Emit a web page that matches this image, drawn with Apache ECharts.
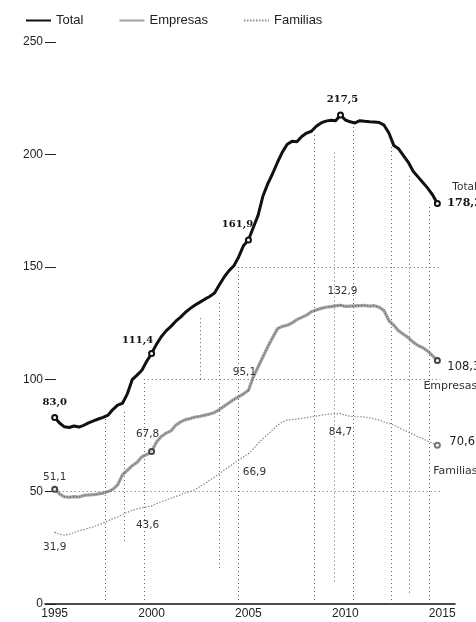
<!DOCTYPE html>
<html><head><meta charset="utf-8">
<script src="https://cdn.jsdelivr.net/npm/echarts@6/dist/echarts.min.js"></script>
<style>html,body{margin:0;padding:0;background:#fff}#c{width:476px;height:622px}</style>
</head><body><div id="c"></div>
<script>
// Quarterly series, first point = 1995 Q1
const firstYear = 1995;
const seriesNames = ['Total', 'Empresas', 'Familias'];

const total = [
  83.0, 80.5, 78.8, 78.5, 79.2, 78.7, 79.5, 80.6, 81.5, 82.3,
  83.0, 84.0, 86.5, 88.5, 89.3, 93.5, 99.8, 101.8, 104.0, 108.0,
  111.4, 115.5, 118.9, 121.5, 123.5, 125.8, 127.6, 129.8, 131.5, 133.0,
  134.3, 135.6, 136.8, 138.3, 142.0, 145.5, 148.3, 150.5, 154.5, 159.5,
  161.9, 167.5, 173.0, 181.5, 187.0, 191.5, 196.5, 201.0, 204.5, 205.8,
  205.6, 208.0, 209.5, 210.3, 212.5, 214.0, 214.8, 215.2, 215.0, 217.5,
  215.3, 214.5, 214.0, 215.0, 214.7, 214.5, 214.4, 214.2, 213.0, 209.5,
  204.0, 202.5, 199.5, 196.5, 192.5, 190.0, 187.5, 185.0, 182.0, 178.2
];
const empresas = [
  51.1, 49.0, 47.7, 47.5, 47.8, 47.6, 48.3, 48.5, 48.6, 49.0,
  49.3, 50.0, 51.0, 53.0, 57.5, 59.5, 61.5, 63.0, 65.5, 66.5,
  67.8, 72.0, 74.5, 76.0, 77.0, 79.5, 81.0, 82.0, 82.5, 83.2,
  83.5, 84.0, 84.5, 85.2, 86.5, 88.0, 89.5, 91.0, 92.2, 93.5,
  95.1, 101.0, 105.5, 110.0, 114.5, 118.5, 122.5, 123.5, 124.0, 125.0,
  126.5, 127.5, 128.5, 130.0, 130.8, 131.5, 132.0, 132.3, 132.6, 132.9,
  132.4, 132.5, 132.6, 132.7, 132.8, 132.5, 132.7, 132.0, 130.5, 126.0,
  124.0, 121.5, 120.0, 118.5, 116.5, 115.0, 114.0, 112.5, 110.5, 108.3
];
const familias = [
  31.9, 31.0, 30.6, 31.0, 31.8, 32.6, 33.0, 33.8, 34.3, 35.2,
  36.0, 37.0, 38.0, 38.7, 39.8, 40.8, 41.6, 42.3, 42.8, 43.2,
  43.6, 44.6, 45.5, 46.2, 47.0, 47.8, 48.6, 49.4, 50.0, 51.0,
  52.2, 53.5, 55.0, 56.5, 58.0, 59.6, 61.0, 62.6, 64.0, 65.5,
  66.9, 69.0, 71.5, 73.5, 75.5, 77.5, 79.5, 81.0, 81.8, 82.0,
  82.3, 82.6, 82.9, 83.3, 83.6, 84.0, 84.3, 84.5, 84.6, 84.7,
  84.0, 83.5, 83.3, 83.3, 83.2, 82.8, 82.3, 81.8, 81.0, 80.4,
  79.6, 78.5, 77.4, 76.5, 75.5, 74.4, 73.5, 72.5, 71.5, 70.6
];
const xTickLabels = [1995, 2000, 2005, 2010, 2015];
// reference guides: [x (year), from value, to value]
const verticalGuides = [
  [1997.63, 0, 83.5], [1998.6, 28, 86], [1999.6, 0, 100], [2002.5, 100, 128],
  [2003.5, 16, 135], [2004.45, 0, 150], [2008.4, 0, 210], [2009.45, 10, 202],
  [2010.4, 0, 214], [2012.35, 0, 204], [2013.3, 5, 191], [2014.35, 0, 178]
];
// [value, from year, to year]
const horizontalGuides = [[50, 1995, 2014.9], [100, 1999.6, 2014.9], [150, 2004.45, 2014.9]];

const fmt = v => v.toFixed(1).replace('.', ',');
const t = i => firstYear + i / 4;

const serifBold = {fontFamily: 'DejaVu Serif', fontWeight: 'bold', fontSize: 10, color: '#111'};
const sansLbl = {fontFamily: 'DejaVu Sans', fontSize: 10.5, color: '#333'};

const totalPos = {0: ['top', [0, -3]], 20: ['top', [-14, -1]], 40: ['top', [-11, -3]], 59: ['top', [2, -3]]};
const empPos = {0: ['top', [0, 1]], 20: ['top', [-4, -4]], 40: ['top', [-4, -8]], 59: ['top', [2, -4]]};
const famPos = {0: ['bottom', [0, 5]], 20: ['bottom', [-4, 9]], 40: ['bottom', [6, 9]], 59: ['bottom', [0, 9]]};

function build(values, posMap, circles, labelStyle) {
  return values.map((v, i) => {
    const item = {value: [t(i), v]};
    if (circles.includes(i)) {
      item.symbol = 'emptyCircle'; item.symbolSize = 5;
    } else if (posMap[i]) {
      item.symbol = 'circle'; item.symbolSize = 1;
    }
    if (posMap[i]) {
      item.label = Object.assign({show: true, position: posMap[i][0], offset: posMap[i][1], distance: 4,
        formatter: p => fmt(p.value[1])}, labelStyle);
    }
    return item;
  });
}

const last = total.length - 1;
const totalData = build(total, totalPos, [0, 20, 40, 59, last], serifBold);
const empData = build(empresas, empPos, [0, 20, last], sansLbl);
const famData = build(familias, famPos, [last], sansLbl);
empData[last].label = Object.assign({show: true, position: 'bottom', offset: [13, 12], formatter: () => seriesNames[1]}, sansLbl, {fontSize: 11});
famData[last].label = Object.assign({show: true, position: 'bottom', offset: [18, 12], formatter: () => seriesNames[2]}, sansLbl, {fontSize: 11});

const guideLines = verticalGuides.map(g => [{coord: [g[0], g[1]]}, {coord: [g[0], g[2]]}])
  .concat(horizontalGuides.map(g => [{coord: [g[1], g[0]]}, {coord: [g[2], g[0]]}]));

const chart = echarts.init(document.getElementById('c'), null, {renderer: 'canvas'});
chart.setOption({
  animation: false,
  backgroundColor: '#fff',
  legend: {
    data: seriesNames, left: 20, top: 9, itemWidth: 25, itemHeight: 10, itemGap: 35,
    itemStyle: {opacity: 0, borderWidth: 0},
    textStyle: {fontFamily: 'Liberation Sans', fontSize: 13, color: '#222'}
  },
  grid: {left: 45, right: 21, top: 42, bottom: 18, containLabel: false},
  xAxis: {
    type: 'value', min: 1994.5, max: 2015.66,
    axisLine: {show: true, lineStyle: {color: '#111', width: 1.5}},
    axisTick: {show: false},
    splitLine: {show: false},
    axisLabel: {customValues: xTickLabels, margin: 4, fontFamily: 'Liberation Sans', fontSize: 12, color: '#222',
      formatter: v => String(v)}
  },
  yAxis: {
    type: 'value', min: 0, max: 250, interval: 50,
    axisLine: {show: false},
    axisTick: {show: true, inside: true, length: 11, lineStyle: {color: '#222', width: 1}},
    splitLine: {show: false},
    axisLabel: {margin: 2, fontFamily: 'Liberation Sans', fontSize: 12, color: '#222'}
  },
  series: [
    {
      name: 'guides', type: 'line', data: [], silent: true,
      markLine: {silent: true, symbol: 'none', label: {show: false}, animation: false,
        lineStyle: {color: '#666', width: 1, type: [1, 3]}, data: guideLines}
    },
    {
      name: seriesNames[2], type: 'line', symbol: 'none', data: famData, z: 3,
      lineStyle: {color: '#8a8a8a', width: 1.2, type: [1.5, 1.5]}, itemStyle: {color: '#777'},
      endLabel: {show: true, distance: 12, offset: [0, -3], formatter: p => fmt(p.value[1]),
        fontFamily: 'DejaVu Sans', fontSize: 11.5, color: '#222'}
    },
    {
      name: seriesNames[1], type: 'line', symbol: 'none', data: empData, z: 4,
      lineStyle: {color: '#a2a2a2', width: 3.2}, itemStyle: {color: '#444'},
      endLabel: {show: true, distance: 10, offset: [0, 6], formatter: p => fmt(p.value[1]),
        fontFamily: 'DejaVu Sans', fontSize: 11.5, color: '#222'}
    },
    {
      name: 'EmpresasTex', type: 'line', symbol: 'none', silent: true, z: 5,
      data: empresas.map((v, i) => [t(i), v]),
      lineStyle: {color: '#333', width: 0.7, type: [1, 2]}
    },
    {
      name: seriesNames[0], type: 'line', symbol: 'none', data: totalData, z: 6,
      lineStyle: {color: '#111', width: 3}, itemStyle: {color: '#111'},
      endLabel: {show: true, distance: 10, offset: [0, -8],
        formatter: p => '{n|' + seriesNames[0] + '}\n{v|' + fmt(p.value[1]) + '}',
        rich: {
          n: {fontFamily: 'DejaVu Sans', fontSize: 10.5, color: '#333', padding: [0, 0, 0, 5], lineHeight: 16},
          v: {fontFamily: 'DejaVu Serif', fontWeight: 'bold', fontSize: 11, color: '#111', lineHeight: 16}
        }}
    }
  ]
});
</script></body></html>
